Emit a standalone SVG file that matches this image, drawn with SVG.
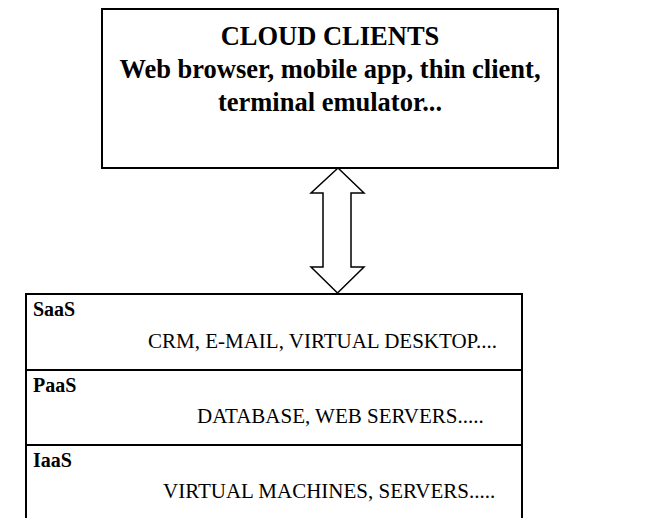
<svg xmlns="http://www.w3.org/2000/svg" width="664" height="518" viewBox="0 0 664 518">
<style>
.box{fill:#fff;stroke:#000;stroke-width:2}
.t{font-family:"Liberation Serif","Times New Roman",serif;fill:#000}
.hd{font-size:26.5px;font-weight:bold;text-anchor:middle}
.lb{font-size:20px;font-weight:bold}
.it{font-size:21px}
.arrow{fill:#fff;stroke:#000;stroke-width:1.5;stroke-linejoin:miter}
</style>
<rect width="664" height="518" fill="#fff"/>
<g id="cloud-clients">
<rect class="box" x="102" y="9" width="456" height="159"/>
<text class="t hd" x="330" y="45">CLOUD CLIENTS</text>
<text class="t hd" x="330" y="78">Web browser, mobile app, thin client,</text>
<text class="t hd" x="330" y="111">terminal emulator...</text>
</g>
<g id="connectors">
<polygon class="arrow" points="338,168 311,193 323,193 323,267 311,267 337.5,293 364,267 351,267 351,193 364,193"/>
</g>
<g id="stack">
<path d="M26,520 V294 H522 V520" fill="#fff" stroke="#000" stroke-width="2"/>
<line x1="26" y1="370" x2="522" y2="370" stroke="#000" stroke-width="2"/>
<line x1="26" y1="445" x2="522" y2="445" stroke="#000" stroke-width="2"/>
</g>
<g id="saas">
<text class="t lb" x="33" y="316">SaaS</text>
<text class="t it" x="148" y="348">CRM, E-MAIL, VIRTUAL DESKTOP....</text>
</g>
<g id="paas">
<text class="t lb" x="33" y="392">PaaS</text>
<text class="t it" x="197" y="423">DATABASE, WEB SERVERS.....</text>
</g>
<g id="iaas">
<text class="t lb" x="33" y="467">IaaS</text>
<text class="t it" x="163" y="498">VIRTUAL MACHINES, SERVERS.....</text>
</g>
</svg>
